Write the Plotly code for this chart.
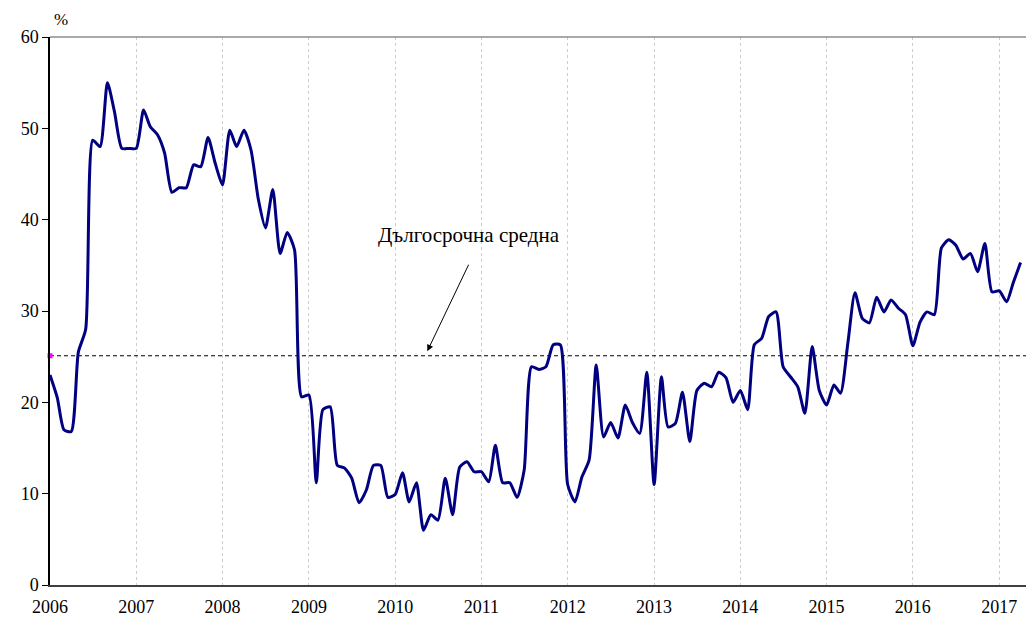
import pandas as pd
import plotly.graph_objects as go

# Monthly values, Jan 2006 - Apr 2017 (%)
values_2006 = [23.0, 20.5, 17.0, 16.8, 25.5, 28.0, 48.7, 48.0, 55.0, 51.8, 47.8, 47.8]
values_2007 = [47.8, 52.0, 50.2, 49.3, 47.3, 43.0, 43.5, 43.5, 46.0, 45.8, 49.0, 46.2]
values_2008 = [43.8, 49.8, 48.0, 49.8, 47.6, 42.2, 39.1, 43.3, 36.3, 38.6, 36.7, 20.6]
values_2009 = [20.8, 11.2, 19.2, 19.5, 13.1, 12.8, 11.7, 9.0, 10.4, 13.1, 13.1, 9.6]
values_2010 = [9.9, 12.3, 9.1, 11.2, 6.0, 7.7, 7.1, 11.7, 7.7, 12.9, 13.5, 12.4]
values_2011 = [12.4, 11.3, 15.3, 11.2, 11.2, 9.6, 12.6, 23.9, 23.6, 23.9, 26.3, 26.3]
values_2012 = [11.0, 9.1, 11.8, 13.7, 24.1, 16.2, 17.8, 16.1, 19.7, 17.8, 16.6, 23.3]
values_2013 = [11.0, 22.8, 17.3, 17.7, 21.1, 15.7, 21.3, 22.1, 21.7, 23.3, 22.7, 20.0]
values_2014 = [21.3, 19.2, 26.3, 27.0, 29.4, 29.9, 23.9, 22.8, 21.7, 18.8, 26.1, 21.3]
values_2015 = [19.7, 21.9, 21.0, 26.5, 32.0, 29.2, 28.7, 31.5, 29.9, 31.2, 30.3, 29.6]
values_2016 = [26.2, 28.8, 29.9, 29.6, 36.9, 37.8, 37.2, 35.7, 36.3, 34.3, 37.4, 32.1]
values_2017 = [32.2, 31.0, 33.1, 35.3]

long_term_average = 25.1
year_ticks = list(range(2006, 2018))
annotation_text = "Дългосрочна средна"
y_unit = "%"

values = (values_2006 + values_2007 + values_2008 + values_2009 + values_2010 + values_2011
          + values_2012 + values_2013 + values_2014 + values_2015 + values_2016 + values_2017)
dates = pd.date_range("2006-01-01", periods=len(values), freq="MS")

FONT = "Liberation Serif, Times New Roman, serif"

fig = go.Figure()

# long-term average (dashed)
fig.add_trace(go.Scatter(
    x=[pd.Timestamp("2006-01-01"), pd.Timestamp("2017-05-01")],
    y=[long_term_average, long_term_average],
    mode="lines", line=dict(color="black", width=1, dash="4px,3px"),
    hoverinfo="skip", showlegend=False))
fig.add_trace(go.Scatter(
    x=[dates[0]], y=[long_term_average], mode="markers",
    marker=dict(color="#ff00ff", size=5, symbol="square"),
    showlegend=False, hoverinfo="skip", cliponaxis=False))

fig.add_trace(go.Scatter(
    x=dates, y=values, mode="lines",
    line=dict(color="#000080", width=3, shape="spline", smoothing=0.6),
    showlegend=False))

fig.add_annotation(
    x=pd.Timestamp("2010-05-17"), y=25.6, xref="x", yref="y",
    text="", showarrow=True, ax=42, ay=-88,
    arrowhead=2, arrowsize=1.3, arrowwidth=1, arrowcolor="black")
fig.add_annotation(
    x=pd.Timestamp("2010-11-11"), y=38.3, xref="x", yref="y",
    text=annotation_text, showarrow=False,
    font=dict(family=FONT, size=21, color="black"))
fig.add_annotation(
    x=0.0, y=1.0, xref="paper", yref="paper", xanchor="left", yanchor="bottom",
    xshift=2, yshift=6,
    text=y_unit, showarrow=False, font=dict(family=FONT, size=17, color="black"))

fig.update_layout(
    width=1026, height=618,
    margin=dict(l=50, r=0, t=37, b=33, autoexpand=False),
    paper_bgcolor="white", plot_bgcolor="white",
    font=dict(family=FONT, size=18, color="black"),
    xaxis=dict(
        type="date", automargin=False,
        range=[pd.Timestamp("2006-01-01"), pd.Timestamp("2017-04-24")],
        tickvals=[pd.Timestamp(f"{y}-01-01") for y in year_ticks],
        ticktext=[str(y) for y in year_ticks],
        showgrid=True, gridcolor="#cccccc", griddash="3px,3px", gridwidth=1,
        showline=True, linecolor="#404040", linewidth=2,
        mirror=False, ticks="", zeroline=False, ticklabelstandoff=4,
    ),
    yaxis=dict(
        range=[0, 60], tickvals=[0, 10, 20, 30, 40, 50, 60], automargin=False,
        showgrid=False, zeroline=False,
        showline=True, linecolor="black", linewidth=1.5,
        ticks="outside", ticklen=6, tickcolor="black",
    ),
)
fig.add_shape(type="line", xref="paper", yref="paper", x0=0, x1=1, y0=1, y1=1,
              line=dict(color="#8c8c8c", width=1.5), layer="above")

fig.write_html(
    "out.html",
    config={"displayModeBar": False},
    post_script="document.body.style.margin='0';document.body.style.overflow='hidden';",
)
